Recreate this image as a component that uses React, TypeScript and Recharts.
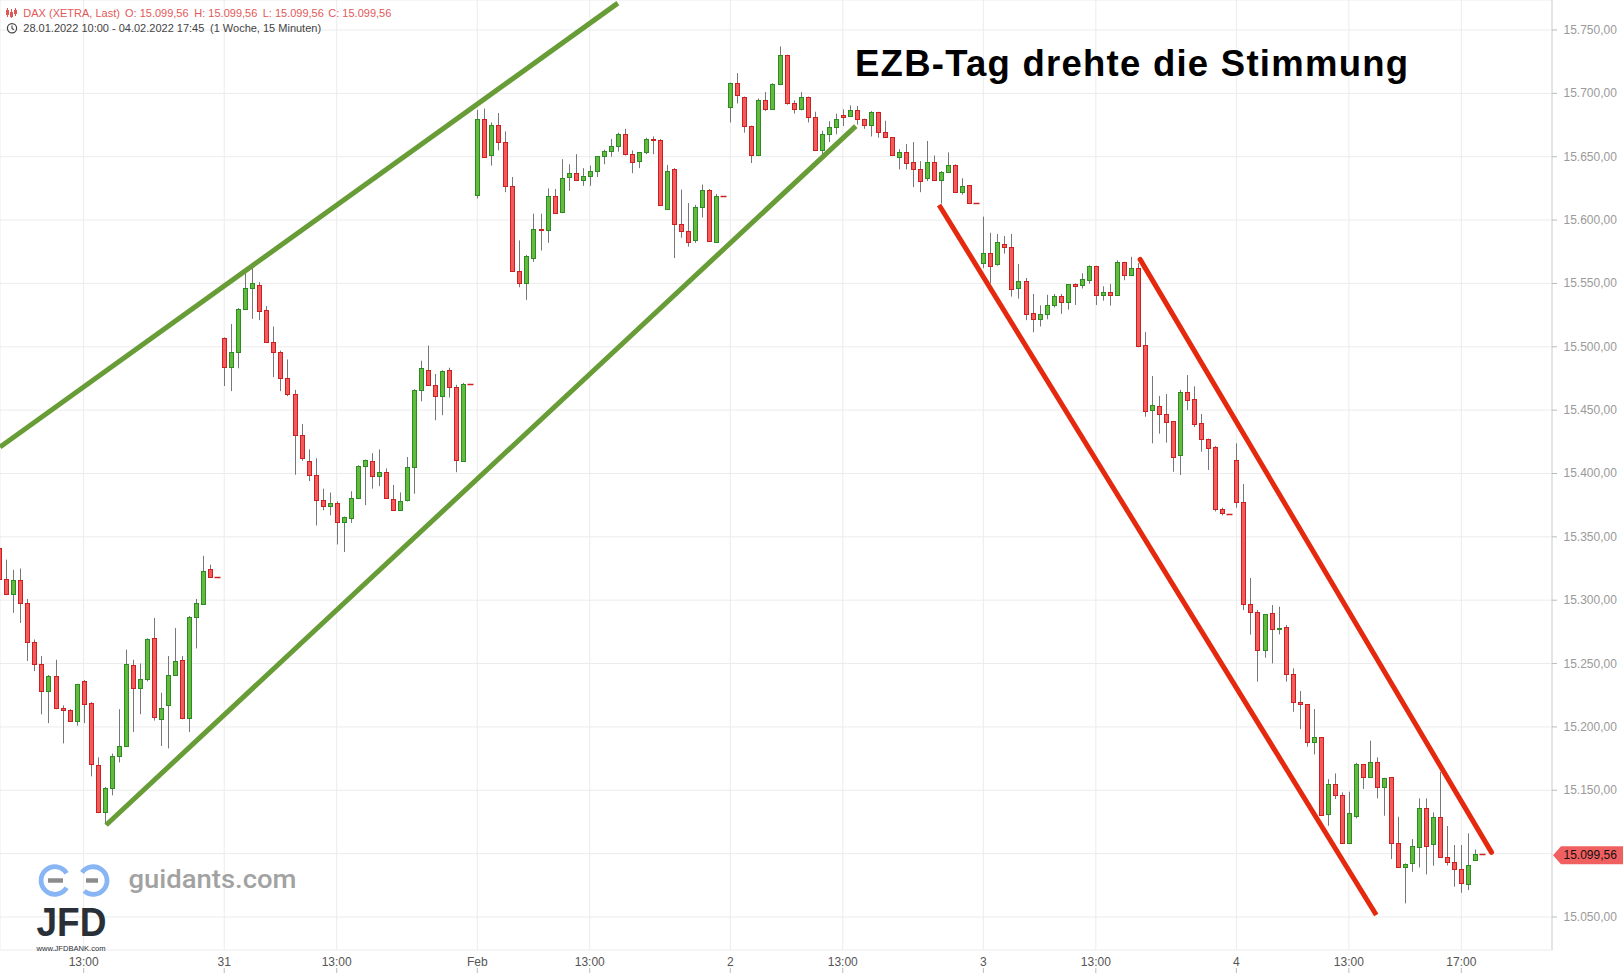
import React from "react"
import {
  ComposedChart,
  Bar,
  XAxis,
  YAxis,
  CartesianGrid,
  ReferenceLine,
} from "recharts"

// [open, high, low, close] per 15-minute slot, one array per trading day
type Ohlc = [number, number, number, number]

const jan28: Ohlc[] = [
  [15341, 15348, 15275, 15317], [15317, 15332, 15304, 15305], [15305, 15324, 15290, 15316],
  [15316, 15325, 15282, 15298], [15298, 15301, 15252, 15267], [15267, 15269, 15244, 15250],
  [15250, 15256, 15210, 15228], [15228, 15241, 15203, 15240], [15240, 15253, 15214, 15215],
  [15215, 15217, 15187, 15213], [15213, 15214, 15204, 15205], [15205, 15234, 15201, 15234],
  [15236, 15237, 15203, 15218], [15219, 15219.5, 15161, 15171], [15170, 15176, 15132, 15133],
  [15133, 15152.5, 15123, 15152], [15152, 15179, 15146, 15177], [15177, 15214, 15172, 15185],
  [15185, 15261, 15184.5, 15250], [15249, 15253, 15196, 15231], [15231, 15250, 15210, 15238],
  [15238, 15270, 15236, 15269], [15270, 15286, 15205, 15208], [15206, 15227, 15185, 15215],
  [15217, 15256, 15183, 15241], [15241, 15278, 15240.5, 15252], [15253, 15256, 15206, 15207],
  [15207, 15287.5, 15196, 15287], [15287, 15301, 15262, 15298], [15297, 15335, 15296.5, 15323],
  [15325, 15328, 15318, 15318], [15318.5, 15318.5, 15318.5, 15318.5],
]

const jan31: Ohlc[] = [
  [15507, 15507.5, 15469, 15484], [15484, 15518, 15465, 15496], [15496, 15530.5, 15483, 15530],
  [15530, 15562, 15529.5, 15546], [15546, 15563, 15522, 15550], [15549, 15551, 15521, 15528],
  [15529, 15532, 15503.5, 15504], [15504, 15516, 15476, 15496], [15496, 15497, 15465, 15475],
  [15475, 15490, 15461, 15463], [15463, 15466, 15399, 15430], [15430, 15439, 15410, 15412],
  [15410, 15419, 15394, 15399], [15399, 15412, 15359, 15379], [15379, 15388, 15371, 15374],
  [15374, 15385, 15367, 15376.5], [15376.5, 15378, 15344, 15361.5], [15361.5, 15366, 15338, 15365.4],
  [15365, 15386, 15361, 15381], [15381, 15406.5, 15380.5, 15406], [15406, 15411, 15375, 15410.4],
  [15410, 15416, 15388, 15398], [15398, 15419, 15390, 15401], [15401, 15404, 15380, 15380.4],
  [15380, 15391, 15370.5, 15371], [15371, 15385, 15370.5, 15378], [15379, 15413, 15378, 15405],
  [15405, 15466.5, 15384, 15466], [15466, 15489, 15457, 15483], [15482, 15501, 15469.5, 15470],
  [15470, 15478.5, 15442, 15461], [15461, 15481.5, 15446, 15481], [15482, 15483.5, 15460, 15468],
  [15468, 15470, 15401, 15411], [15410, 15471.5, 15409.5, 15471], [15471, 15471, 15471, 15471],
]

const feb01: Ohlc[] = [
  [15620, 15687, 15617, 15680], [15680, 15688, 15649, 15650], [15651, 15677, 15643, 15675],
  [15675, 15684.5, 15655, 15662], [15662, 15670, 15622, 15627], [15627, 15634, 15559.5, 15560],
  [15560, 15584, 15547, 15550], [15550, 15572.5, 15537, 15571.5], [15570, 15605, 15567, 15593],
  [15593, 15605, 15576, 15592], [15592, 15625, 15582, 15619], [15619, 15624.5, 15605, 15605.3],
  [15606, 15648, 15605.5, 15633], [15634, 15644, 15623, 15637], [15637, 15652, 15631, 15631.4],
  [15631.4, 15641, 15627, 15634.5], [15634.5, 15643, 15627, 15638.5], [15638.5, 15650.5, 15634, 15650.3],
  [15650.3, 15655.5, 15644, 15654.2], [15654.2, 15664, 15650, 15658.2], [15658.2, 15669, 15654, 15667.7],
  [15667.7, 15672, 15651, 15652], [15652, 15655, 15637, 15646], [15647, 15653.5, 15641, 15653.4],
  [15653.4, 15665, 15652, 15663.7], [15664, 15666, 15652, 15663.5], [15663, 15664, 15611.5, 15611.6],
  [15609, 15643.5, 15608, 15639], [15640, 15641, 15570, 15597], [15597, 15624, 15586, 15591],
  [15591, 15613.5, 15579, 15583], [15584, 15612, 15582, 15610], [15610, 15628, 15602, 15624],
  [15624, 15624.5, 15583, 15583.2], [15583, 15620.6, 15582.5, 15619], [15618.7, 15618.7, 15618.7, 15618.7],
]

const feb02: Ohlc[] = [
  [15689, 15708.5, 15677, 15708], [15708, 15716, 15692, 15699], [15697, 15697.5, 15669, 15674],
  [15674, 15674.5, 15645, 15651], [15651, 15696, 15650.5, 15695], [15695, 15701, 15686, 15688],
  [15688, 15708, 15687.5, 15707], [15707, 15737, 15706.5, 15730], [15730, 15730.5, 15691, 15692],
  [15692, 15694.5, 15684, 15687.5], [15688, 15701, 15686.6, 15697], [15697, 15697.5, 15677, 15681],
  [15681, 15685.5, 15655, 15655.2], [15655, 15670.5, 15651.6, 15667.7], [15667.7, 15678, 15661.6, 15673.2],
  [15673.2, 15684, 15667.7, 15679.5], [15682.6, 15687.4, 15674.2, 15681.6], [15681.8, 15690.5, 15681.5, 15686.6],
  [15686.6, 15690, 15675.3, 15679.5], [15679.5, 15680, 15672, 15675.3], [15675.3, 15686, 15666, 15685],
  [15685, 15685.5, 15665, 15669.2], [15669.2, 15678.4, 15665, 15665.2], [15665.3, 15665.5, 15651.5, 15651.6],
  [15649.5, 15656, 15640, 15653.4], [15653.4, 15660, 15640, 15644.8], [15645.5, 15661.5, 15626, 15640],
  [15640, 15646.5, 15622, 15630.6], [15633, 15662.4, 15630.8, 15645.5], [15645.5, 15651, 15630.8, 15631.4],
  [15631.4, 15638.7, 15613, 15637.7], [15637.7, 15653.4, 15637.5, 15643.2], [15643.2, 15644, 15621.9, 15622],
  [15622, 15633, 15620, 15626.6], [15627.4, 15627.5, 15613, 15613.2], [15613.2, 15613.2, 15613.2, 15613.2],
]

const feb03: Ohlc[] = [
  [15566, 15602.7, 15562, 15574], [15574, 15590, 15550, 15563.5], [15565, 15589, 15564, 15582.4],
  [15581, 15587.4, 15573.5, 15579], [15579, 15589, 15539.6, 15545.3], [15546, 15565.3, 15538, 15551.7],
  [15551.7, 15554.3, 15521, 15525.6], [15526.4, 15541.7, 15511.4, 15521.7], [15521.7, 15532.7, 15516, 15525.6],
  [15525.6, 15541, 15521.7, 15532.7], [15532.7, 15541.7, 15531, 15539.8], [15539.8, 15541.7, 15526, 15535.6],
  [15535.6, 15549.5, 15529.3, 15549.3], [15549.3, 15550, 15533, 15547.7], [15548.5, 15558, 15546, 15553.2],
  [15552.4, 15564.3, 15549.8, 15563.5], [15563.5, 15564, 15533, 15540.6], [15540.6, 15547.7, 15536.4, 15543],
  [15543, 15549.6, 15532.5, 15540.6], [15540.6, 15568.2, 15540.5, 15566.7], [15566.7, 15567, 15552.5, 15556.4],
  [15556.4, 15571, 15556.3, 15561.9], [15561.9, 15566, 15499.6, 15500.4], [15501.2, 15511.7, 15444.8, 15449.6],
  [15449.9, 15477, 15423.8, 15453.8], [15453, 15461.2, 15431.4, 15447.2], [15446.7, 15462.7, 15424.3, 15440.9],
  [15441.2, 15441.5, 15401.4, 15413.3], [15414.3, 15466, 15398.8, 15464.1], [15464.1, 15477.7, 15450, 15458.3],
  [15458.6, 15468.8, 15436.7, 15439.3], [15439.6, 15447, 15417.2, 15427], [15427, 15427.5, 15402.8, 15420.4],
  [15420.6, 15421.7, 15370, 15372], [15372, 15373, 15367, 15369], [15367.8, 15367.8, 15367.8, 15367.8],
]

const feb04: Ohlc[] = [
  [15410.6, 15423.8, 15373, 15377.2], [15377.2, 15391.7, 15292.2, 15296.7], [15296.7, 15317.5, 15272.8, 15290.9],
  [15290.9, 15292.2, 15235.7, 15260.4], [15260.4, 15289, 15254.6, 15288.8], [15289.6, 15296.2, 15250.1, 15277],
  [15277, 15294.9, 15273, 15277.8], [15278.6, 15280.4, 15235.7, 15241.5], [15241.5, 15246.2, 15212, 15219.9],
  [15219.9, 15228.3, 15198.3, 15217.8], [15217.8, 15218, 15184.4, 15188.3], [15188.3, 15214.1, 15178.3, 15191.7],
  [15191.7, 15192, 15129.9, 15130.4], [15131, 15158.8, 15122, 15154.6], [15154.6, 15163.3, 15143.1, 15146],
  [15146, 15148.3, 15108, 15108.1], [15108.1, 15148.9, 15108, 15131.7], [15129.9, 15171.7, 15127.8, 15170.4],
  [15170.4, 15170.5, 15151, 15160.2], [15160.2, 15189.1, 15160, 15172], [15172, 15176, 15143.6, 15152.3],
  [15152.3, 15159.9, 15129.9, 15159.4], [15160.2, 15160.3, 15095.7, 15108.1], [15108.6, 15129.1, 15089, 15089.1],
  [15089.1, 15092.3, 15060.7, 15091.5], [15092.3, 15111.5, 15085.7, 15106], [15104.9, 15143.6, 15089.1, 15135.7],
  [15135.7, 15143.6, 15083.6, 15106.2], [15107.3, 15132.5, 15090.4, 15128.6], [15128.6, 15164.6, 15097.5, 15097.5],
  [15097, 15121.8, 15090.7, 15093.6], [15093.6, 15106.8, 15073.9, 15087.6], [15087.6, 15106.8, 15069.1, 15076.5],
  [15075.7, 15116, 15071.2, 15091], [15094.9, 15103.3, 15094.9, 15099.56], [15099.56, 15099.56, 15099.56, 15099.56],
]

const days = [jan28, jan31, feb01, feb02, feb03, feb04]
// first slot index of each day (36 slots per day, 9:00 - 17:45; Jan 28 starts at 10:00)
const dayStartSlot = [0, 32, 68, 104, 140, 176]

const tickSlots = [12, 32, 48, 68, 84, 104, 120, 140, 156, 176, 192, 208]
const tickLabels = ["13:00", "31", "13:00", "Feb", "13:00", "2", "13:00", "3", "13:00", "4", "13:00", "17:00"]
const priceTicks = [15050, 15100, 15150, 15200, 15250, 15300, 15350, 15400, 15450, 15500, 15550, 15600, 15650, 15700, 15750]
const LAST_PRICE = 15099.56

// drawn trend channels: [slot, price] pairs
const greenUpper = [[0.1, 15420.9], [88, 15771.2]]
const greenLower = [[15.2, 15122.6], [121.85, 15674.2]]
const redUpper = [[162.3, 15569], [212.3, 15101]]
const redLower = [[133.7, 15611.9], [195.9, 15051.6]]

const X_MIN = 0.1
const X_MAX = 220.9
const Y_MIN = 15023.94
const Y_MAX = 15773.68

const GREEN_FILL = "#63bb3d"
const GREEN_STROKE = "#2e8a24"
const RED_FILL = "#f25b5b"
const RED_STROKE = "#cc2020"
const WICK = "#777"

const rows = days.flatMap((day, d) =>
  day.map((c, k) => ({
    i: dayStartSlot[d] + k,
    open: c[0],
    high: c[1],
    low: c[2],
    close: c[3],
    range: [Y_MIN, c[1]],
  }))
)

const fmt = (v: number) => {
  const [int, dec] = v.toFixed(2).split(".")
  return int.replace(/\B(?=(\d{3})+(?!\d))/g, ".") + "," + dec
}

function Candle(props: any) {
  const { x, y, width, height, payload } = props
  if (!payload || !(height > 0)) return null
  const c = Math.round(x + width / 2)
  const k = height / (payload.high - Y_MIN)
  const py = (v: number) => y + (payload.high - v) * k
  const { open, high, low, close } = payload
  if (high === low) {
    const yy = Math.round(py(close)) + 0.5
    return <line x1={c - 2.5} x2={c + 3.5} y1={yy} y2={yy} stroke={RED_STROKE} strokeWidth={1.5} />
  }
  const up = close > open
  const top = Math.round(py(Math.max(open, close))) + 0.5
  const bot = Math.round(py(Math.min(open, close))) + 0.5
  return (
    <g>
      <line x1={c + 0.5} x2={c + 0.5} y1={py(high)} y2={py(low)} stroke={WICK} strokeWidth={1} />
      <rect
        x={c - 1.5}
        y={top}
        width={4}
        height={Math.max(bot - top, 1)}
        fill={up ? GREEN_FILL : RED_FILL}
        stroke={up ? GREEN_STROKE : RED_STROKE}
        strokeWidth={1}
      />
    </g>
  )
}

function TimeTick(props: any) {
  const { x, y, payload } = props
  const idx = tickSlots.indexOf(payload.value)
  return (
    <g>
      <text x={x} y={y} textAnchor="middle" dominantBaseline="central" fontSize={12} fill="#555">
        {tickLabels[idx]}
      </text>
      <line x1={x} x2={x} y1={y + 6} y2={y + 11} stroke="#bbb" />
    </g>
  )
}

function PriceTick(props: any) {
  const { x, y, payload } = props
  // the last-price tag covers this label
  if (Math.abs(payload.value - LAST_PRICE) < 10) return null
  return (
    <g>
      <line x1={x} x2={x + 5} y1={y} y2={y} stroke="#bbb" />
      <text x={x + 11.5} y={y} dominantBaseline="central" fontSize={12} fill="#9a9a9a">
        {fmt(payload.value)}
      </text>
    </g>
  )
}

function PriceTag(props: any) {
  const { viewBox } = props
  if (!viewBox) return null
  const x0 = viewBox.x + viewBox.width
  const y0 = viewBox.y + 1
  return (
    <g>
      <path
        d={`M${x0 + 1},${y0} L${x0 + 9},${y0 - 9} L1623,${y0 - 9} L1623,${y0 + 9} L${x0 + 9},${y0 + 9} Z`}
        fill="#f06060"
      />
      <text x={x0 + 11.5} y={y0} dominantBaseline="central" fontSize={12} fill="#111">
        {fmt(LAST_PRICE)}
      </text>
    </g>
  )
}

const seg = (p: number[][]) => [
  { x: p[0][0], y: p[0][1] },
  { x: p[1][0], y: p[1][1] },
]

export default function App() {
  return (
    <div
      style={{
        position: "fixed",
        left: 0,
        top: 0,
        width: 1623,
        height: 973,
        background: "#fff",
        fontFamily: "Arial, 'Liberation Sans', sans-serif",
      }}
    >
      <ComposedChart width={1623} height={973} data={rows} margin={{ top: 0, right: 0, bottom: 0, left: 0 }}>
        <CartesianGrid stroke="#ececec" />
        <XAxis
          type="number"
          dataKey="i"
          domain={[X_MIN, X_MAX]}
          ticks={tickSlots}
          interval={0}
          allowDataOverflow
          height={23}
          axisLine={false}
          tickLine={false}
          tickSize={0}
          tickMargin={12}
          tick={<TimeTick />}
        />
        <YAxis
          orientation="right"
          domain={[Y_MIN, Y_MAX]}
          ticks={priceTicks}
          interval={0}
          allowDataOverflow
          width={71}
          axisLine={{ stroke: "#d4d4d4" }}
          tickLine={false}
          tickSize={0}
          tickMargin={0}
          tick={<PriceTick />}
        />
        <Bar dataKey="range" barSize={5} shape={<Candle />} isAnimationActive={false} />
        <ReferenceLine segment={seg(greenUpper)} stroke="#679c36" strokeWidth={5} ifOverflow="visible" />
        <ReferenceLine segment={seg(greenLower)} stroke="#679c36" strokeWidth={5} ifOverflow="visible" />
        <ReferenceLine segment={seg(redUpper)} stroke="#e4290f" strokeWidth={5} strokeLinecap="round" ifOverflow="visible" />
        <ReferenceLine segment={seg(redLower)} stroke="#e4290f" strokeWidth={5} ifOverflow="visible" />
        <ReferenceLine y={LAST_PRICE} stroke="none" ifOverflow="visible" label={<PriceTag />} />
      </ComposedChart>

      <svg width={1623} height={973} style={{ position: "absolute", left: 0, top: 0, pointerEvents: "none" }}>
        {/* header */}
        <g stroke="#e05555" strokeWidth={1}>
          <line x1={7.5} x2={7.5} y1={8} y2={17} />
          <line x1={11.5} x2={11.5} y1={9} y2={18} />
          <line x1={15.5} x2={15.5} y1={8} y2={16} />
          <rect x={6.5} y={10.5} width={2} height={4} fill="#e05555" />
          <rect x={10.5} y={12.5} width={2} height={4} fill="#e05555" />
          <rect x={14.5} y={10.5} width={2} height={3} fill="#e05555" />
        </g>
        <g fontSize={11} fill="#e35858">
          <text x={23.3} y={17}>DAX (XETRA, Last)</text>
          <text x={125} y={17}>O: 15.099,56</text>
          <text x={194.3} y={17}>H: 15.099,56</text>
          <text x={262.7} y={17}>L: 15.099,56</text>
          <text x={328.3} y={17}>C: 15.099,56</text>
        </g>
        <circle cx={12} cy={28.3} r={4.6} fill="none" stroke="#444" strokeWidth={1.2} />
        <path d="M12,25.6 L12,28.5 L14,29.8" fill="none" stroke="#444" strokeWidth={1.1} />
        <g fontSize={11} fill="#444">
          <text x={23.3} y={32.3}>28.01.2022 10:00 - 04.02.2022 17:45</text>
          <text x={210} y={32.3}>(1 Woche, 15 Minuten)</text>
        </g>

        {/* title */}
        <text x={855} y={76} fontSize={36.5} fontWeight="bold" fill="#000" textLength={553} lengthAdjust="spacing">
          EZB-Tag drehte die Stimmung
        </text>

        {/* logo */}
        <path d="M66.6,873.2 A13.8,13.8 0 1 0 66.6,887.8" fill="none" stroke="#88b5f3" strokeWidth={4.8} />
        <path d="M82,872.5 A13.8,13.8 0 1 1 84.2,891" fill="none" stroke="#88b5f3" strokeWidth={4.8} />
        <line x1={48} x2={63} y1={880.5} y2={880.5} stroke="#8c8c8c" strokeWidth={4.5} />
        <line x1={86} x2={98} y1={880.5} y2={880.5} stroke="#8c8c8c" strokeWidth={4.5} />
        <text x={36.5} y={935.5} fontSize={40} fontWeight="bold" fill="#2a3038" textLength={70} lengthAdjust="spacingAndGlyphs">
          JFD
        </text>
        <text x={36.5} y={951} fontSize={7} fill="#2a3038" textLength={69} lengthAdjust="spacingAndGlyphs">
          www.JFDBANK.com
        </text>
        <text
          x={128.5}
          y={888}
          fontSize={25}
          fontWeight={500}
          fontFamily="Roboto, sans-serif"
          fill="#a2a2a2"
          textLength={168}
          lengthAdjust="spacingAndGlyphs"
        >
          guidants.com
        </text>
      </svg>
    </div>
  )
}
